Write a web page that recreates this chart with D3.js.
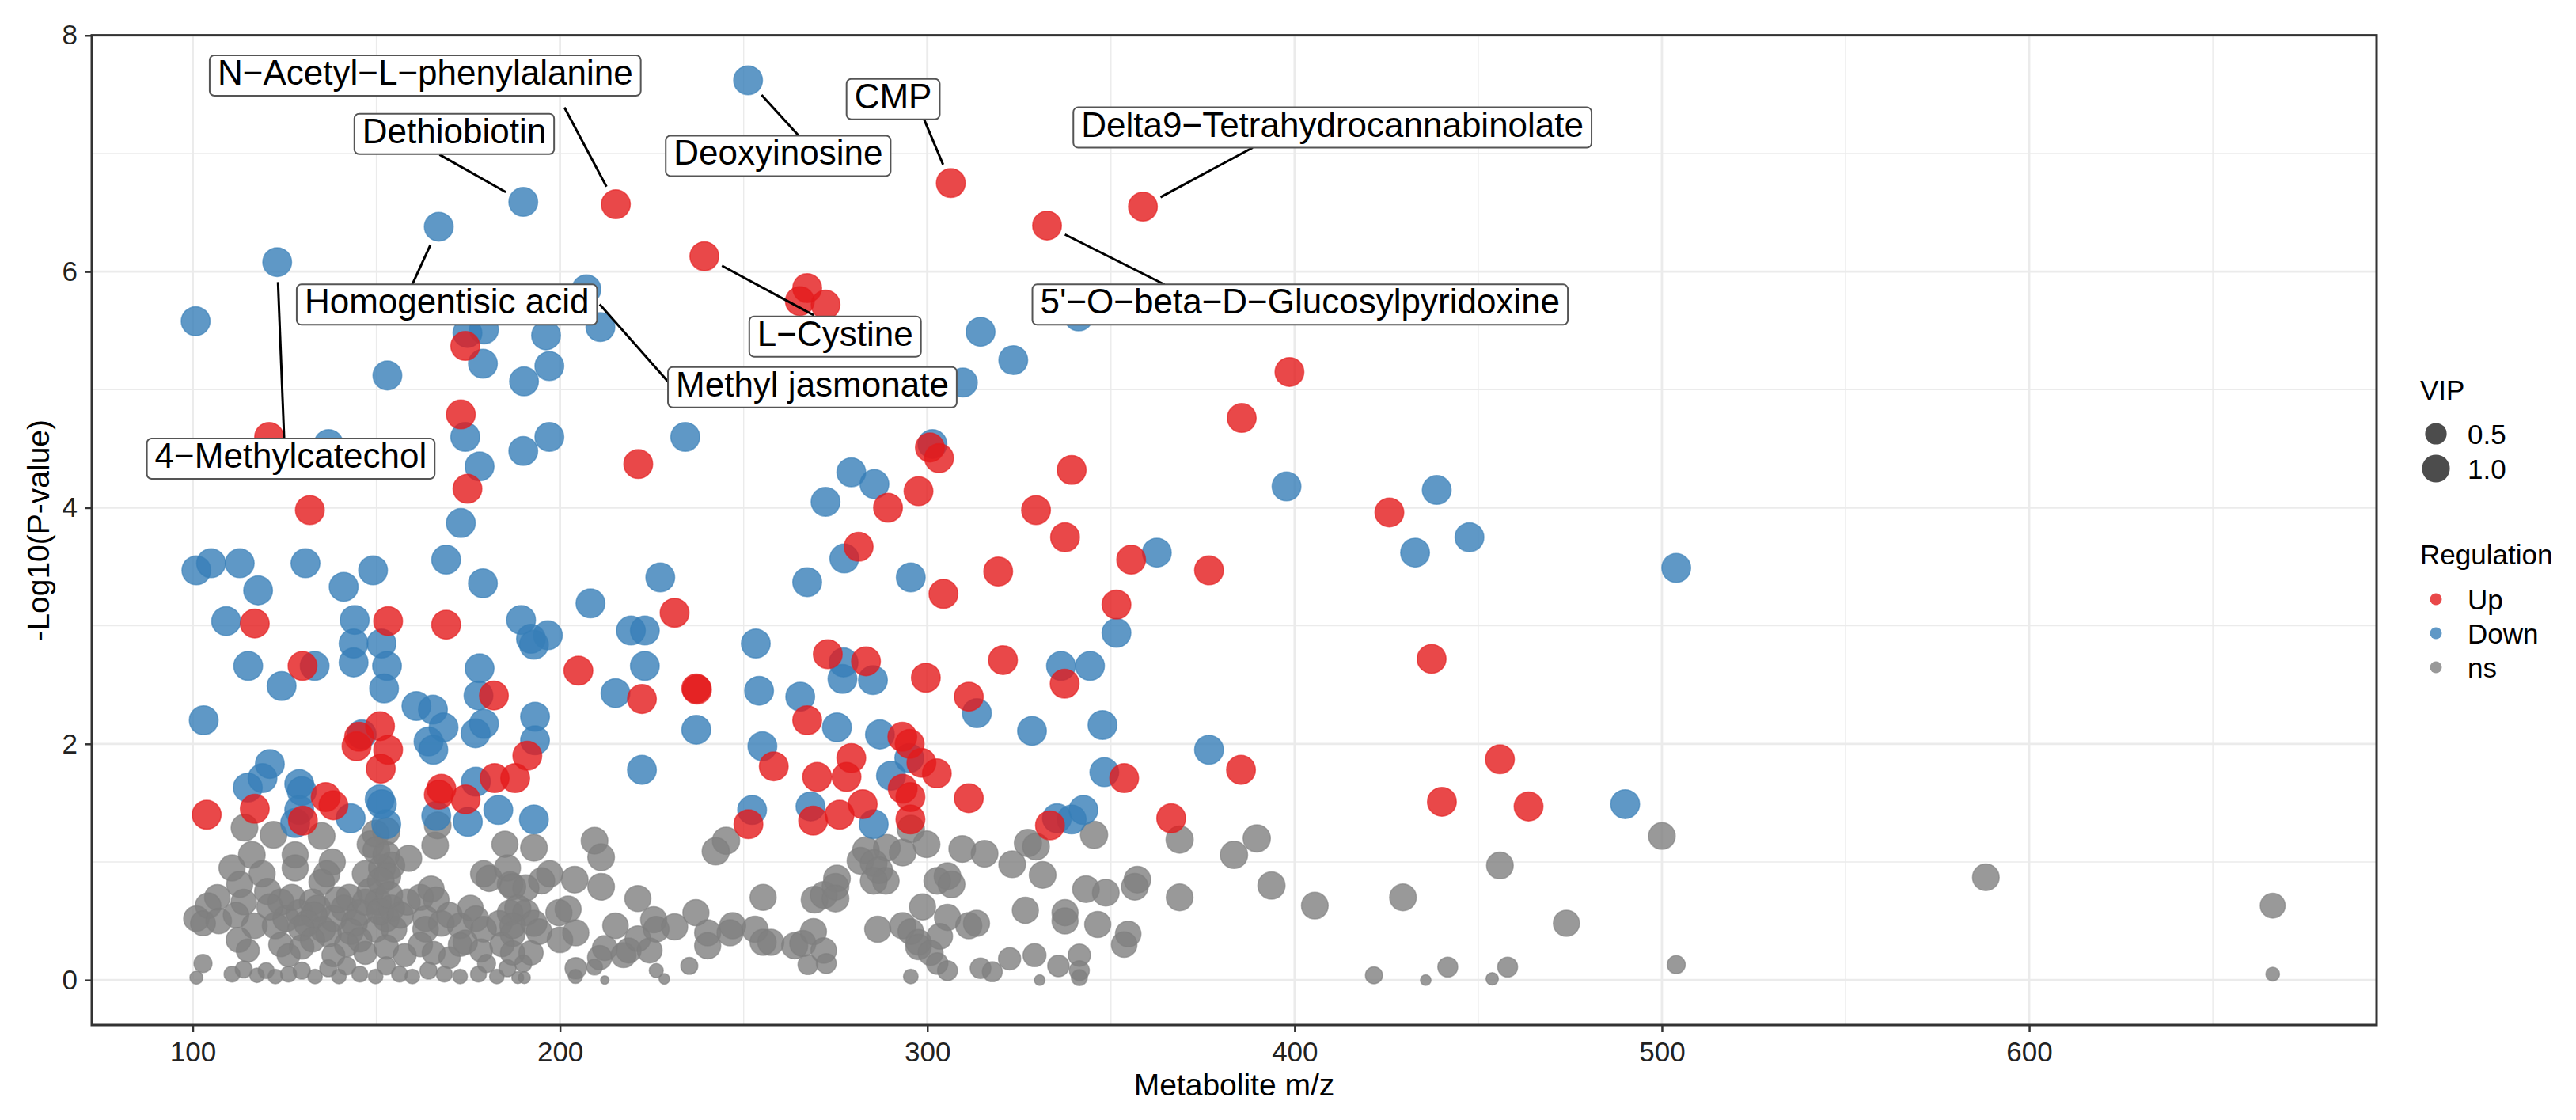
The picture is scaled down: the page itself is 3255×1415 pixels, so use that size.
<!DOCTYPE html>
<html>
<head>
<meta charset="utf-8">
<script src="https://cdn.jsdelivr.net/npm/d3@7"></script>
<style>
  body { margin: 0; background: #fff; }
  text { font-family: "Liberation Sans", Arial, Helvetica, sans-serif; }
</style>
</head>
<body>
<svg></svg>
<script>
// [m/z, -log10(p), VIP]
let upRegulated = [
  [215.2,6.57,1.1],[239.3,6.13,1.1],[267.3,5.86,1.1],[265.3,5.75,1.1],[272.3,5.72,1.1],[306.4,6.75,1.1],
  [332.6,6.39,1.1],[358.7,6.55,1.1],[174.2,5.37,1.1],[173,4.79,1.1],[221.3,4.37,1.1],[174.8,4.16,1.1],
  [120.8,4.6,1.1],[131.9,3.98,1.1],[281.3,3.67,1.1],[398.6,5.15,1.1],[385.6,4.76,1.1],[300.7,4.51,1.1],
  [303.2,4.42,1.1],[297.6,4.14,1.1],[289.3,4.0,1.1],[339.3,4.32,1.1],[329.6,3.98,1.1],[337.5,3.75,1.1],
  [425.8,3.96,1.1],[355.5,3.56,1.1],[304.4,3.27,1.1],[319.3,3.46,1.1],[376.7,3.47,1.1],[351.5,3.18,1.1],
  [437.3,2.72,1.1],[272.9,2.76,1.1],[283.3,2.70,1.1],[299.6,2.56,1.1],[320.6,2.71,1.1],[337.4,2.51,1.1],
  [311.3,2.4,1.1],[293.2,2.06,1.1],[295.2,2.0,1.1],[298.4,1.84,1.1],[302.6,1.75,1.1],[279.3,1.88,1.1],
  [278.0,1.72,1.1],[293.3,1.62,1.1],[295.4,1.55,1.1],[311.3,1.54,1.1],[385.4,1.78,1.1],[353.6,1.71,1.1],
  [455.9,1.87,1.1],[440.1,1.51,1.1],[463.7,1.47,1.1],[282.4,1.49,1.1],[276.1,1.4,1.1],[295.4,1.36,1.1],
  [366.4,1.37,1.1],[333.4,1.31,1.1],[116.9,3.02,1.1],[153.2,3.04,1.1],[169,3.01,1.1],[231.2,3.11,1.1],
  [129.9,2.66,1.1],[205,2.62,1.1],[182,2.41,1.1],[222.3,2.38,1.1],[237.1,2.47,1.1],[237.3,2.46,1.1],
  [151,2.15,1.1],[145.3,2.06,1.1],[144.6,1.98,1.1],[153.2,1.95,1.1],[191.1,1.9,1.1],[267.3,2.2,1.1],
  [151.2,1.79,1.1],[136.2,1.55,1.1],[138.3,1.48,1.1],[167.7,1.62,1.1],[167,1.57,1.1],[174.3,1.53,1.1],
  [182.2,1.71,1.1],[187.8,1.71,1.1],[258.2,1.81,1.1],[270,1.72,1.1],[103.8,1.4,1.1],[116.9,1.45,1.1],
  [130,1.35,1.1],[251.3,1.32,1.1],[268.9,1.35,1.1]
]

let downRegulated = [
  [123,6.08,1.1],[167,6.38,1.1],[190,6.59,1.1],[251.2,7.62,1.1],[207.2,5.85,1.1],[100.8,5.58,1.1],
  [211,5.53,1.1],[179.3,5.51,1.1],[174.8,5.48,1.1],[196.2,5.46,1.1],[179,5.22,1.1],[197.1,5.2,1.1],
  [190.2,5.07,1.1],[153,5.12,1.1],[174.2,4.6,1.1],[197.1,4.6,1.1],[190,4.48,1.1],[178.1,4.35,1.1],
  [234.1,4.6,1.1],[137,4.54,1.1],[173,3.87,1.1],[272.3,4.05,1.1],[279.3,4.3,1.1],[285.6,4.2,1.1],
  [301.4,4.54,1.1],[314.5,5.49,1.1],[323.4,5.25,1.1],[341.2,5.62,1.1],[309.7,5.06,1.1],[397.8,4.18,1.1],
  [438.7,4.15,1.1],[447.6,3.75,1.1],[362.5,3.62,1.1],[432.8,3.62,1.1],[101,3.47,1.1],[105,3.53,1.1],
  [112.8,3.53,1.1],[130.7,3.53,1.1],[149.1,3.47,1.1],[169,3.56,1.1],[117.8,3.3,1.1],[141.1,3.33,1.1],
  [179,3.36,1.1],[227.3,3.41,1.1],[267.3,3.37,1.1],[277.4,3.57,1.1],[109.1,3.04,1.1],[144.1,3.05,1.1],
  [189.4,3.05,1.1],[192.1,2.89,1.1],[196.7,2.92,1.1],[192.9,2.84,1.1],[208.3,3.19,1.1],[219.3,2.96,1.1],
  [223.1,2.96,1.1],[143.8,2.85,1.1],[151.4,2.85,1.1],[115.1,2.66,1.1],[133.2,2.66,1.1],[143.8,2.69,1.1],
  [152.9,2.66,1.1],[178.1,2.64,1.1],[223.1,2.66,1.1],[253.3,2.85,1.1],[277.2,2.69,1.1],[276.9,2.55,1.1],
  [124.2,2.49,1.1],[152.1,2.47,1.1],[177.8,2.41,1.1],[215.1,2.43,1.1],[254.2,2.45,1.1],[265.4,2.4,1.1],
  [103,2.2,1.1],[160.9,2.32,1.1],[165.4,2.29,1.1],[168.3,2.14,1.1],[177,2.09,1.1],[179.3,2.17,1.1],
  [193.2,2.23,1.1],[146,2.08,1.1],[164.2,2.02,1.1],[165.5,1.95,1.1],[193.2,2.03,1.1],[237.1,2.12,1.1],
  [275.4,2.14,1.1],[255.1,1.98,1.1],[222.3,1.78,1.1],[177.1,1.68,1.1],[115,1.63,1.1],[119,1.71,1.1],
  [121,1.83,1.1],[129,1.66,1.1],[129.7,1.6,1.1],[129,1.44,1.1],[127.9,1.33,1.1],[143,1.37,1.1],
  [150.9,1.53,1.1],[151.5,1.49,1.1],[152.7,1.32,1.1],[166.3,1.39,1.1],[174.9,1.34,1.1],[183.2,1.44,1.1],
  [192.9,1.36,1.1],[252.3,1.44,1.1],[268.2,1.47,1.1],[285.4,1.32,1.1],[290.1,1.73,1.1],[295.1,1.88,1.1],
  [348.2,1.76,1.1],[335.3,1.37,1.1],[339.3,1.36,1.1],[342.5,1.44,1.1],[295.5,3.41,1.1],[351.5,2.94,1.1],
  [285.2,2.54,1.1],[336.4,2.66,1.1],[344.3,2.66,1.1],[313.5,2.26,1.1],[287.1,2.08,1.1],[328.5,2.11,1.1],
  [347.7,2.16,1.1],[376.7,1.95,1.1],[503.9,3.49,1.1],[490,1.49,1.1]
]

let notSignificant = [
  [114.1,1.29,.9],[122,1.23,.9],[135.1,1.22,.9],[116.1,1.06,.9],[127.9,1.06,.85],[127.9,.95,.85],
  [110.7,.95,.85],[118.9,.9,.85],[138,1,.85],[136.5,.9,.85],[135.1,.83,.8],[147,.9,.85],[149.8,1.24,.9],
  [152.7,1.26,.95],[148.4,1.15,.9],[152.7,1.06,.9],[154.1,.97,.9],[158.8,1.03,.85],[166,1.14,.9],
  [166.7,1.31,.9],[185,1.15,.85],[179.2,.9,.85],[180.7,.86,.85],[186.4,.81,.8],[151.5,.95,.9],
  [150,1.1,.9],[153,.88,.9],
  [106.7,.7,.8],[104.2,.63,.8],[101,.52,.8],[102.8,.48,.75],[107.1,.5,.8],[112.8,.81,.85],[113.9,.66,.8],
  [111.8,.55,.8],[116.8,.46,.8],[112.5,.34,.75],[115,.25,.6],[120.4,.75,.85],[124,.66,.85],[122.5,.46,.85],
  [125.4,.52,.85],[129,.57,.85],[132.6,.66,.85],[134,.61,.85],[131.1,.48,.85],[135.4,.43,.8],[138.3,.52,.85],
  [141.2,.61,.85],[142.6,.7,.85],[145.5,.57,.85],[148.4,.75,.9],[150.5,.66,.9],[152.7,.52,.85],[154.1,.61,.85],
  [151.2,.84,.9],[149.8,.43,.8],[154.8,.43,.8],[158.4,.66,.85],[162,.7,.85],[164.9,.77,.85],[166.3,.68,.8],
  [163.4,.52,.8],[163.4,.43,.8],[167.7,.48,.8],[169.9,.55,.8],[172.8,.46,.8],[175.6,.61,.8],[177.1,.52,.8],
  [179.2,.43,.8],[183.5,.48,.8],[186.4,.57,.8],[187.1,.39,.75],[184.2,.3,.7],[174.2,.32,.7],
  [121,.62,.85],[127,.7,.85],[133,.55,.85],[139.5,.68,.85],[144,.48,.85],[147,.66,.85],[151,.58,.9],
  [156.5,.55,.85],[153.5,.72,.9],[129.5,.44,.8],[137,.39,.8],[143,.41,.8],
  [124,.3,.7],[126.1,.21,.6],[129.7,.28,.7],[132.6,.34,.7],[138.3,.21,.6],[141.9,.3,.7],[145.5,.34,.7],
  [147,.23,.6],[152.7,.28,.7],[157.7,.21,.6],[162,.3,.7],[165.6,.23,.6],[169.9,.19,.5],[172.8,.3,.65],
  [178.5,.25,.6],
  [102.8,.14,.3],[101,.02,.1],[110.7,.05,.2],[113.9,.09,.25],[117.5,.04,.15],[120,.08,.2],[122.5,.03,.15],
  [126.1,.05,.2],[129.7,.08,.25],[133.3,.03,.15],[136.9,.1,.25],[139.8,.03,.15],[141.9,.12,.3],[145.5,.05,.2],
  [149.8,.03,.15],[152.7,.12,.3],[156.3,.05,.2],[159.8,.03,.15],[164.2,.08,.25],[168.5,.05,.2],[172.8,.03,.15],
  [177.8,.05,.2],[180,.14,.3],[182.8,.03,.15],[185.7,.1,.25],
  [185.7,.95,.85],[192.9,1.12,.9],[197.2,.9,.85],[195,.84,.85],[190.7,.78,.85],[187.1,.79,.85],[209.4,1.18,.9],
  [211.2,1.04,.9],[204,.85,.9],[211.2,.79,.9],[221.2,.69,.85],[202.2,.6,.85],[199.7,.57,.85],[190.7,.57,.85],
  [188.5,.61,.85],[192.9,.48,.85],[194.3,.41,.8],[187.1,.46,.8],[200,.34,.8],[204.3,.4,.85],[192.1,.23,.7],
  [190,.14,.25],[187.1,.23,.7],[188.5,.02,.07],[190.3,.02,.07],[215.1,.46,.8],[212.2,.27,.75],[210.8,.19,.7],
  [209.4,.11,.2],[204.3,.1,.5],[204.2,.03,.13],[212.2,0,.01],[217.3,.21,.75],[218.7,.25,.75],[221.2,.35,.8],
  [224.4,.25,.75],[225.5,.51,.85],[226.2,.43,.8],[231.2,.45,.85],[226.2,.08,.13],[228.4,.01,.04],[235.2,.12,.25],
  [237,.57,.85],[240.2,.4,.85],[240.2,.29,.85],[245.2,1.18,.95],[242.4,1.09,.95],[247,.46,.85],[246.3,.4,.85],
  [253.1,.43,.85],[255.3,.32,.85],[257.4,.32,.85],[255.3,.7,.85],[263.9,.29,.85],[266.1,.31,.85],[269,.41,.85],
  [267.5,.13,.4],[271.8,.25,.8],[272.5,.14,.4],[269.3,.68,.9],[271.8,.72,.9],[275,.79,.9],[275.4,.86,.9],
  [275,.69,.9],
  [295.5,1.28,.95],[283.3,1.1,.9],[289,1.12,.9],[293.3,1.08,.9],[299.8,1.15,.9],[281.8,1.01,.9],[285.4,.99,.9],
  [286.9,.93,.9],[288.7,.84,.9],[285.4,.84,.9],[309.5,1.11,.9],[315.6,1.07,.9],[302.7,.84,.9],[305.5,.88,.9],
  [306.6,.81,.9],[323.1,.98,.9],[327.4,1.16,.95],[329.6,1.13,.9],[331.4,.89,.9],[345.4,1.23,.95],[343.2,.77,.9],
  [348.6,.74,.9],[357.2,.85,.9],[356.5,.79,.9],[368.7,.7,.9],[368.7,1.19,.95],[298.7,.62,.85],[305.5,.53,.85],
  [286.5,.43,.85],[293.3,.46,.85],[295.5,.41,.8],[297.6,.32,.8],[297.6,.28,.8],[303.4,.37,.8],[300.9,.23,.75],
  [302.7,.14,.5],[305.5,.08,.4],[295.5,.03,.15],[311.3,.46,.85],[313.4,.48,.85],[326.7,.59,.85],[337.5,.57,.85],
  [337.5,.5,.85],[346.4,.47,.85],[354.7,.39,.8],[353.6,.3,.8],[314.5,.1,.45],[317.7,.07,.4],[322.4,.18,.55],
  [329.2,.21,.6],[335.7,.12,.5],[341.4,.21,.55],[341.4,.08,.4],[341.4,.02,.2],[330.6,0,.04],
  [383.5,1.06,.95],[389.7,1.2,.95],[393.7,.8,.95],[405.5,.63,.9],[429.5,.7,.9],[455.9,.97,.9],[474,.48,.85],
  [421.6,.04,.25],[435.7,0,.04],[441.7,.11,.4],[453.8,.01,.08],[458,.11,.4],[500,1.22,.9],[503.9,.13,.3],
  [588.2,.87,.9],[666.3,.63,.75],[666.3,.05,.12]
]

let xTicks = [100, 200, 300, 400, 500, 600]
let xMinor = [150, 250, 350, 450, 550, 650]
let yTicks = [0, 2, 4, 6, 8]
let yMinor = [1, 3, 5, 7]

let vipBreaks = [0.5, 1.0]
let regulationNames = ["Up", "Down", "ns"]
let regulationColors = ["#E41A1C", "#377EB8", "#7F7F7F"]

// labelled metabolites: target point, box centre, start of leader line
let labelNames = ["N\u2212Acetyl\u2212L\u2212phenylalanine", "Dethiobiotin", "Homogentisic acid", "4\u2212Methylcatechol",
  "Deoxyinosine", "L\u2212Cystine", "Methyl jasmonate", "CMP", "Delta9\u2212Tetrahydrocannabinolate",
  "5'\u2212O\u2212beta\u2212D\u2212Glucosylpyridoxine"]
let labelTargets = [[215.2,6.57],[190,6.59],[167,6.38],[123,6.08],[251.2,7.62],[239.3,6.13],[207.2,5.85],[306.4,6.75],[358.7,6.55],[332.6,6.39]]
let labelBoxes = [[163.3,7.66],[171.2,7.165],[169.2,5.72],[126.7,4.415],[259.4,6.98],[274.9,5.45],[268.7,5.02],[290.7,7.46],[410.3,7.22],[401.5,5.72]]
let labelLeaders = [[201.2,7.39],[167.2,6.99],[159.6,5.88],[124.9,4.58],[265.3,7.14],[269.1,5.63],[229.9,5.05],[299.1,7.29],[388.6,7.05],[364.6,5.89]]

let width = 3255
let height = 1415
let panel = {left: 116, right: 3003, top: 44.6, bottom: 1295}

let svg = d3.select("svg")
let xScale, yScale, sizeScale

let createCanvas = () => {
  svg.attr("width", width).attr("height", height)
  svg.append("rect").attr("width", width).attr("height", height).attr("fill", "#fff")
}

let createScales = () => {
  let all = upRegulated.concat(downRegulated, notSignificant)
  let xExt = d3.extent(all, d => d[0])
  let yExt = d3.extent(all, d => d[1])
  let xPad = (xExt[1] - xExt[0]) * 0.05
  let yPad = (yExt[1] - yExt[0]) * 0.05

  xScale = d3.scaleLinear()
    .domain([xExt[0] - xPad, xExt[1] + xPad])
    .range([panel.left, panel.right])

  yScale = d3.scaleLinear()
    .domain([yExt[0] - yPad, yExt[1] + yPad])
    .range([panel.bottom, panel.top])

  sizeScale = d3.scaleSqrt().domain([0, 1.3]).range([4, 19.5])
}

let createGrid = () => {
  let g = svg.append("g")
  g.selectAll(".xminor").data(xMinor).enter().append("line")
    .attr("x1", d => xScale(d)).attr("x2", d => xScale(d))
    .attr("y1", panel.top).attr("y2", panel.bottom)
    .attr("stroke", "#EBEBEB").attr("stroke-width", 1.4)
  g.selectAll(".yminor").data(yMinor).enter().append("line")
    .attr("y1", d => yScale(d)).attr("y2", d => yScale(d))
    .attr("x1", panel.left).attr("x2", panel.right)
    .attr("stroke", "#EBEBEB").attr("stroke-width", 1.4)
  g.selectAll(".xmajor").data(xTicks).enter().append("line")
    .attr("x1", d => xScale(d)).attr("x2", d => xScale(d))
    .attr("y1", panel.top).attr("y2", panel.bottom)
    .attr("stroke", "#EBEBEB").attr("stroke-width", 2.8)
  g.selectAll(".ymajor").data(yTicks).enter().append("line")
    .attr("y1", d => yScale(d)).attr("y2", d => yScale(d))
    .attr("x1", panel.left).attr("x2", panel.right)
    .attr("stroke", "#EBEBEB").attr("stroke-width", 2.8)
}

let createPoints = () => {
  let groups = [notSignificant, downRegulated, upRegulated]
  let colors = [regulationColors[2], regulationColors[1], regulationColors[0]]
  groups.forEach((values, i) => {
    svg.append("g").selectAll("circle")
      .data(values)
      .enter()
      .append("circle")
      .attr("cx", d => xScale(d[0]))
      .attr("cy", d => yScale(d[1]))
      .attr("r", d => sizeScale(d[2]))
      .attr("fill", colors[i])
      .attr("fill-opacity", 0.8)
      .attr("stroke", colors[i])
      .attr("stroke-opacity", 0.6)
      .attr("stroke-width", 1.5)
  })
}

let createLabels = () => {
  let g = svg.append("g")
  let fontSize = 44
  labelNames.forEach((name, i) => {
    let tx = xScale(labelTargets[i][0]), ty = yScale(labelTargets[i][1])
    let sx = xScale(labelLeaders[i][0]), sy = yScale(labelLeaders[i][1])
    let r = sizeScale(1.1) + 7
    let dist = Math.hypot(tx - sx, ty - sy)
    let ex = tx - (tx - sx) * r / dist
    let ey = ty - (ty - sy) * r / dist
    g.append("line")
      .attr("x1", sx).attr("y1", sy).attr("x2", ex).attr("y2", ey)
      .attr("stroke", "#000").attr("stroke-width", 3)
  })
  labelNames.forEach((name, i) => {
    let cx = xScale(labelBoxes[i][0]), cy = yScale(labelBoxes[i][1])
    let box = g.append("rect")
    let txt = g.append("text")
      .attr("x", cx).attr("y", cy + 11.5)
      .attr("text-anchor", "middle")
      .style("font-size", fontSize + "px")
      .attr("fill", "#000")
      .text(name)
    let w = txt.node().getBBox().width + 20
    let h = 51
    box.attr("x", cx - w / 2).attr("y", cy - h / 2)
      .attr("width", w).attr("height", h)
      .attr("rx", 6).attr("ry", 6)
      .attr("fill", "#fff")
      .attr("stroke", "#555").attr("stroke-width", 2)
  })
}

let createAxes = () => {
  svg.append("rect")
    .attr("x", panel.left).attr("y", panel.top)
    .attr("width", panel.right - panel.left).attr("height", panel.bottom - panel.top)
    .attr("fill", "none").attr("stroke", "#333").attr("stroke-width", 3)

  let xAxis = d3.axisBottom(xScale).tickValues(xTicks).tickSize(9).tickPadding(12)
  let yAxis = d3.axisLeft(yScale).tickValues(yTicks).tickSize(9).tickPadding(9)

  let gx = svg.append("g")
    .attr("transform", "translate(0," + panel.bottom + ")")
    .call(xAxis)
  let gy = svg.append("g")
    .attr("transform", "translate(" + panel.left + ",0)")
    .call(yAxis)

  ;[gx, gy].forEach(g => {
    g.select(".domain").remove()
    g.selectAll(".tick line").attr("stroke", "#333").attr("stroke-width", 2.5)
    g.selectAll(".tick text")
      .style("font-size", "35px")
      .style("font-family", "'Liberation Sans', Arial, sans-serif")
      .attr("fill", "#222")
  })

  svg.append("text")
    .attr("x", (panel.left + panel.right) / 2)
    .attr("y", 1384)
    .attr("text-anchor", "middle")
    .style("font-size", "39px")
    .text("Metabolite m/z")

  svg.append("text")
    .attr("transform", "translate(62," + (panel.top + panel.bottom) / 2 + ")rotate(-90)")
    .attr("text-anchor", "middle")
    .style("font-size", "39px")
    .text("-Log10(P-value)")
}

let createLegend = () => {
  let g = svg.append("g")
  g.append("text").attr("x", 3058).attr("y", 505).style("font-size", "35px").text("VIP")
  let vipY = [548, 592]
  vipBreaks.forEach((v, i) => {
    g.append("circle").attr("cx", 3078).attr("cy", vipY[i]).attr("r", sizeScale(v))
      .attr("fill", "#000").attr("fill-opacity", 0.7)
    g.append("text").attr("x", 3118).attr("y", vipY[i] + 12.5)
      .style("font-size", "35px").text(d3.format(".1f")(v))
  })

  g.append("text").attr("x", 3058).attr("y", 713).style("font-size", "35px").text("Regulation")
  let regY = [757, 800, 843]
  regulationNames.forEach((name, i) => {
    g.append("circle").attr("cx", 3078).attr("cy", regY[i]).attr("r", 7.5)
      .attr("fill", regulationColors[i]).attr("fill-opacity", 0.8)
    g.append("text").attr("x", 3118).attr("y", regY[i] + 12.5)
      .style("font-size", "35px").text(name)
  })
}

createCanvas()
createScales()
createGrid()
createPoints()
createLabels()
createAxes()
createLegend()
</script>
</body>
</html>
